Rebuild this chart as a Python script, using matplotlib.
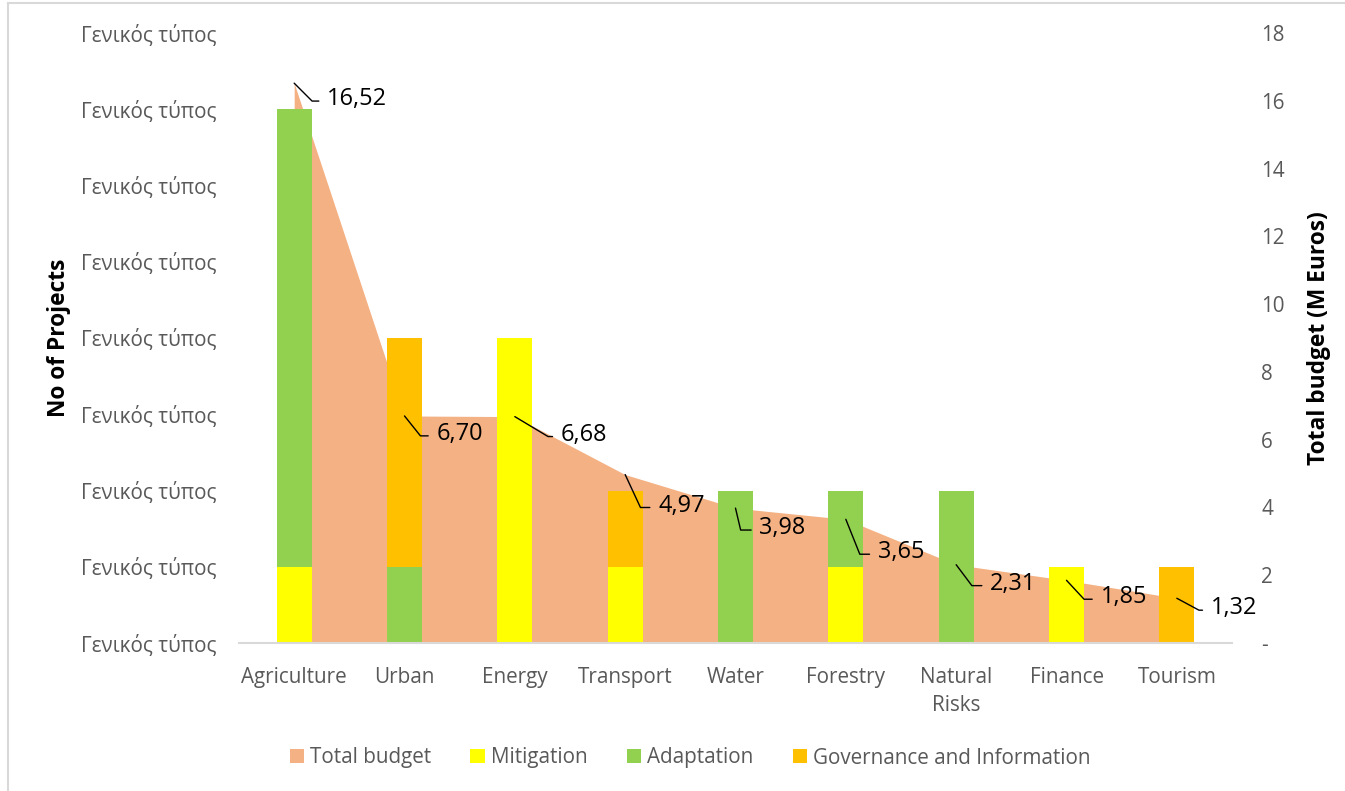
import math
import matplotlib
matplotlib.use("Agg")
import matplotlib.pyplot as plt
from matplotlib.patches import Patch
from matplotlib.lines import Line2D
import numpy as np

plt.rcParams['font.family'] = ['Open Sans', 'DejaVu Sans']

categories = ['Agriculture', 'Urban', 'Energy', 'Transport', 'Water',
              'Forestry', 'Natural\nRisks', 'Finance', 'Tourism']
mitigation = [1, 0, 4, 1, 0, 1, 0, 1, 0]
adaptation = [6, 1, 0, 0, 2, 1, 2, 0, 0]
governance = [0, 3, 0, 1, 0, 0, 0, 0, 1]
budget = [16.52, 6.70, 6.68, 4.97, 3.98, 3.65, 2.31, 1.85, 1.32]
left_tick_label = 'Γενικός τύπος'
right_ticks = [0, 2, 4, 6, 8, 10, 12, 14, 16, 18]

# leader geometry (pixels): corner dx, corner dy (down), text dx
leaders = [(13, 13, 33), (12, 15, 32), (25, 15, 46), (13, 28, 33), (4, 17, 24),
           (12, 30, 32), (12, 16, 34), (13, 14, 34), (13, 7, 34)]

C_AREA = '#F4B183'
C_MIT = '#FFFF00'
C_ADA = '#92D050'
C_GOV = '#FFC000'
GRAY = '#595959'
FS = 14.9

W, H = 1345, 791
fig = plt.figure(figsize=(W / 100, H / 100), dpi=100)
L, R, B, T = 239, 1232, 643, 33
ax = fig.add_axes([L / W, 1 - B / H, (R - L) / W, (B - T) / H])
ax2 = ax.twinx()
ax.set_zorder(ax2.get_zorder() + 1)
ax.patch.set_visible(False)

x = np.arange(len(categories))
# area (total budget) on secondary axis
ax2.fill_between(x, 0, budget, color=C_AREA, linewidth=0)
ax2.set_ylim(0, 18)
ax2.set_yticks(right_ticks)
ax2.set_yticklabels(['-' if v == 0 else str(v) for v in right_ticks])

bw = 0.315
mit = np.array(mitigation)
ada = np.array(adaptation)
gov = np.array(governance)
ax.bar(x, mit, bw, color=C_MIT, linewidth=0)
ax.bar(x, ada, bw, bottom=mit, color=C_ADA, linewidth=0)
ax.bar(x, gov, bw, bottom=mit + ada, color=C_GOV, linewidth=0)
ax.set_ylim(0, 8)
ax.set_xlim(-0.5, len(categories) - 0.5)
ax.set_yticks(range(0, 9))
ax.set_yticklabels([left_tick_label] * 9)
ax.set_xticks(x)
ax.set_xticklabels(categories, linespacing=1.45)

for a in (ax, ax2):
    for s in a.spines.values():
        s.set_visible(False)
ax.spines['bottom'].set_visible(True)
ax.spines['bottom'].set_color('#D9D9D9')
ax.spines['bottom'].set_linewidth(1.5)

ax.tick_params(axis='y', length=0, pad=16, labelsize=FS, labelcolor=GRAY)
ax.tick_params(axis='x', length=0, pad=17, labelsize=FS, labelcolor=GRAY)
ax2.tick_params(axis='y', length=0, pad=21, labelsize=FS, labelcolor=GRAY)

ax.set_ylabel('No of Projects', fontsize=16.4, fontweight='bold', color='black')
ax.yaxis.set_label_coords((71 - L) / (R - L), 0.5)
ax2.set_ylabel('Total budget (M Euros)', fontsize=16.4, fontweight='bold', color='black')
ax2.yaxis.set_label_coords((1307 - L) / (R - L), 0.5)

# data labels with leader lines
for i, v in enumerate(budget):
    cdx, cdy, tdx = leaders[i]
    angB = math.degrees(math.atan2(-cdy, cdx))
    ax.annotate(f'{v:.2f}'.replace('.', ','), xy=(x[i], v), xycoords=ax2.transData,
                xytext=(tdx, -(cdy + 3)), textcoords='offset pixels',
                ha='left', va='center', fontsize=16.9, color='black', zorder=10,
                arrowprops=dict(arrowstyle='-', color='black', lw=1.0,
                                connectionstyle=f'angle,angleA=0,angleB={angB},rad=0',
                                relpos=(0, 0.42), shrinkA=4, shrinkB=0))

handles = [Patch(facecolor=C_AREA, label='Total budget'),
           Patch(facecolor=C_MIT, label='Mitigation'),
           Patch(facecolor=C_ADA, label='Adaptation'),
           Patch(facecolor=C_GOV, label='Governance and Information')]
leg = fig.legend(handles=handles, loc='center', bbox_to_anchor=(690 / W, 1 - 758 / H),
                 ncol=4, frameon=False, fontsize=FS, handlelength=0.68, handleheight=0.68,
                 handletextpad=0.3, columnspacing=1.9, labelcolor=GRAY)

# chart area border (left and top visible)
fig.add_artist(Line2D([8 / W, 8 / W], [0, 1 - 3 / H], transform=fig.transFigure,
                      color='#D9D9D9', lw=1.5))
fig.add_artist(Line2D([8 / W, 1], [1 - 3 / H, 1 - 3 / H], transform=fig.transFigure,
                      color='#D9D9D9', lw=1.5))

fig.savefig('out.png', dpi=100)
